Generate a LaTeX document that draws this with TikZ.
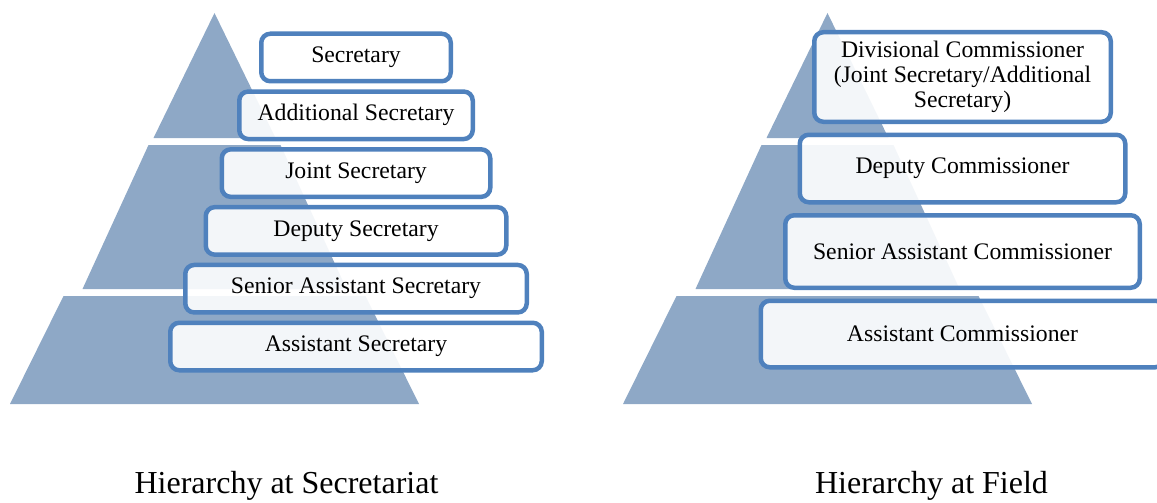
\documentclass[tikz,border=0pt]{standalone}
\usepackage{fontspec}
\setmainfont{Liberation Serif}
\usepackage{tikz}
\usetikzlibrary{positioning}
\definecolor{tierblue}{HTML}{8EA8C6}
\definecolor{rankblue}{HTML}{4F81BD}
\tikzset{
  tier/.style={fill=tierblue, draw=none},
  rank/.style={draw=rankblue, line width=4.5pt, rounded corners=9pt, fill=white, fill opacity=0.9, text opacity=1,
    align=center, inner sep=2pt, minimum height=47.5pt, font=\fontsize{23.7}{25}\selectfont},
  caption/.style={inner sep=0pt, font=\fontsize{32}{34}\selectfont},
}

\begin{document}
\begin{tikzpicture}[x=1pt, y=-1pt, node distance=5.8pt]
    \useasboundingbox (0,0) rectangle (1157,503);

    % the two pyramids, three tiers each
    \foreach \cx in {214.5, 827.5} {
      \fill[tier] (\cx,13) -- (\cx+61,138) -- (\cx-61,138) -- cycle;
      \fill[tier] (\cx-66,145) -- (\cx+66,145) -- (\cx+132,289) -- (\cx-132,289) -- cycle;
      \fill[tier] (\cx-151,296) -- (\cx+151,296) -- (\cx+204.5,404) -- (\cx-204.5,404) -- cycle;
    }

    % secretariat
    \node[rank, minimum width=189.5pt, anchor=north] (sec) at (356,31.5) {Secretary};
    \node[rank, minimum width=233.5pt, below=of sec] (addl) {Additional Secretary};
    \node[rank, minimum width=268.5pt, below=of addl] (joint) {Joint Secretary};
    \node[rank, minimum width=300.5pt, below=of joint] (dep) {Deputy Secretary};
    \node[rank, minimum width=341.5pt, below=of dep] (sas) {Senior Assistant Secretary};
    \node[rank, minimum width=371.5pt, below=of sas] (as) {Assistant Secretary};

    % field
    \node[rank, minimum width=296.5pt, minimum height=89.5pt, anchor=north] (divc) at (962.5,30)
      {Divisional Commissioner\\(Joint Secretary/Additional\\Secretary)};
    \node[rank, minimum width=325.5pt, minimum height=67.5pt, below=8.5pt of divc] (dc) {Deputy Commissioner};
    \node[rank, minimum width=354.5pt, minimum height=72.5pt, below=8.5pt of dc] (sac) {Senior Assistant Commissioner};
    \node[rank, minimum width=403.5pt, minimum height=66.5pt, below=8.5pt of sac] (ac) {Assistant Commissioner};

    \node[caption, anchor=base] (capsec) at (286.5,493) {Hierarchy at Secretariat};
    \node[caption, anchor=base] (capfld) at (931.5,493) {Hierarchy at Field};
\end{tikzpicture}
\end{document}
